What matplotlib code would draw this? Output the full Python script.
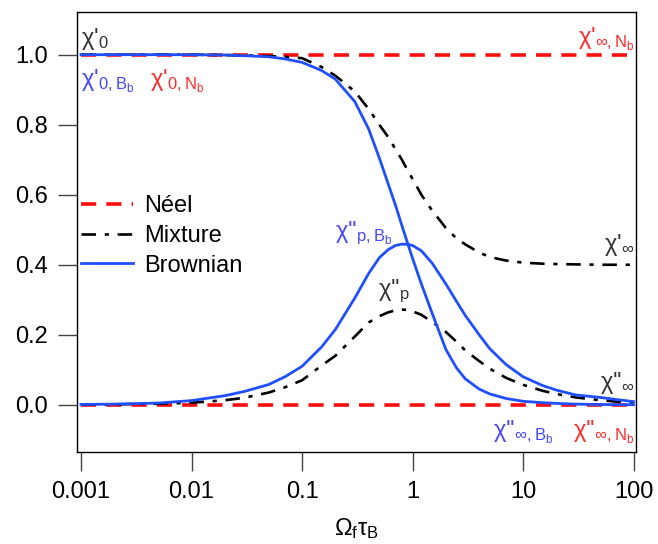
import numpy as np
import matplotlib
matplotlib.use("Agg")
import matplotlib.pyplot as plt
from matplotlib.ticker import FixedLocator, NullLocator, FixedFormatter

plt.rcParams['font.family'] = ['Liberation Sans', 'DejaVu Sans']
plt.rcParams['mathtext.default'] = 'regular'

# normalised frequency Omega_f * tau_B
freq = [0.001, 0.002, 0.005, 0.01, 0.02, 0.03, 0.05, 0.07, 0.1, 0.15, 0.2, 0.3,
        0.4, 0.5, 0.6, 0.7, 0.8, 0.9, 1.0, 1.2, 1.5, 2, 2.5, 3, 4, 5, 7, 10,
        15, 20, 30, 50, 70, 100]

# Brownian particles
brown_re = [1.0, 1.0, 1.0, 0.9999, 0.999, 0.997, 0.994, 0.988, 0.978, 0.955, 0.93, 0.866,
            0.788, 0.705, 0.632, 0.57, 0.512, 0.462, 0.418, 0.345, 0.262, 0.158, 0.105, 0.074,
            0.045, 0.031, 0.018, 0.01, 0.006, 0.004, 0.002, 0.0008, 0.0004, 0.0002]
brown_im = [0.001, 0.002, 0.005, 0.012, 0.026, 0.038, 0.058, 0.08, 0.11, 0.165, 0.215, 0.305,
            0.375, 0.42, 0.443, 0.455, 0.459, 0.458, 0.455, 0.44, 0.405, 0.345, 0.295, 0.255,
            0.2, 0.16, 0.115, 0.08, 0.055, 0.042, 0.028, 0.021, 0.015, 0.009]

# Brownian + Neel mixture
mix_re = [1.0, 1.0, 1.0, 1.0, 0.999, 0.998, 0.996, 0.994, 0.99, 0.965, 0.94, 0.895,
          0.845, 0.80, 0.765, 0.73, 0.70, 0.67, 0.645, 0.60, 0.555, 0.505, 0.475, 0.458,
          0.435, 0.422, 0.412, 0.406, 0.403, 0.402, 0.401, 0.4, 0.4, 0.4]
mix_im = [0.0006, 0.0012, 0.003, 0.006, 0.013, 0.02, 0.035, 0.05, 0.07, 0.112, 0.14, 0.195,
          0.235, 0.253, 0.264, 0.27, 0.272, 0.271, 0.267, 0.257, 0.237, 0.208, 0.18, 0.155,
          0.125, 0.103, 0.077, 0.057, 0.04, 0.031, 0.021, 0.013, 0.009, 0.006]

# Neel particles (no relaxation in this range)
neel_re = [1.0] * len(freq)
neel_im = [0.0] * len(freq)

xticks = [0.001, 0.01, 0.1, 1, 10, 100]
xtick_labels = ['0.001', '0.01', '0.1', '1', '10', '100']
yticks = [0.0, 0.2, 0.4, 0.6, 0.8, 1.0]

red = '#ff0d0d'
blue = '#1f4fff'
lab_blue = '#4646ff'
lab_red = '#ff2a2a'
lab_dark = '#333333'

fig = plt.figure(figsize=(6.58, 5.44), dpi=100)
ax = fig.add_axes([0.117, 0.169, 0.8496, 0.809])

neel_kw = dict(color=red, lw=2.6, dashes=(4.2, 2.8))
mix_kw = dict(color='black', lw=1.9, dashes=(5.5, 3.3, 1.6, 3.3))
brown_kw = dict(color=blue, lw=2.0)

ax.plot(freq, neel_re, label='Néel', **neel_kw)
ax.plot(freq, neel_im, **neel_kw)
ax.plot(freq, mix_re, label='Mixture', **mix_kw)
ax.plot(freq, mix_im, **mix_kw)
ax.plot(freq, brown_re, label='Brownian', **brown_kw)
ax.plot(freq, brown_im, **brown_kw)

ax.set_xscale('log')
ax.set_xlim(0.00092, 105)
ax.set_ylim(-0.135, 1.122)
ax.xaxis.set_major_locator(FixedLocator(xticks))
ax.xaxis.set_major_formatter(FixedFormatter(xtick_labels))
ax.xaxis.set_minor_locator(NullLocator())
ax.set_yticks(yticks)
ax.set_yticklabels(['%.1f' % v for v in yticks])
ax.tick_params(axis='both', length=14, width=1.0, color='#444444',
               labelsize=17, pad=7)
for sp in ax.spines.values():
    sp.set_linewidth(1.0)

ax.set_xlabel(r'$\Omega_f\tau_B$', fontsize=17, labelpad=9)

lab = dict(fontsize=17, va='center')
ax.text(0.001, 1.045, "χ'$_0$", color=lab_dark, ha='left', **lab)
ax.text(0.001, 0.925, "χ'$_{0,B_b}$", color=lab_blue, ha='left', **lab)
ax.text(0.0042, 0.925, "χ'$_{0,N_b}$", color=lab_red, ha='left', **lab)
ax.text(102, 1.045, "χ'$_{∞,N_b}$", color=lab_red, ha='right', **lab)
ax.text(0.2, 0.49, "χ''$_{p,B_b}$", color=lab_blue, ha='left', **lab)
ax.text(0.49, 0.325, "χ''$_p$", color=lab_dark, ha='left', **lab)
ax.text(102, 0.455, "χ'$_∞$", color=lab_dark, ha='right', **lab)
ax.text(102, 0.063, "χ''$_∞$", color=lab_dark, ha='right', **lab)
ax.text(5.3, -0.078, "χ''$_{∞,B_b}$", color=lab_blue, ha='left', **lab)
ax.text(102, -0.078, "χ''$_{∞,N_b}$", color=lab_red, ha='right', **lab)

ax.legend(loc='upper left', bbox_to_anchor=(0.008, 0.584), frameon=False,
          fontsize=17, handlelength=2.2, handletextpad=0.45,
          labelspacing=0.33, borderpad=0, borderaxespad=0)

fig.savefig('out.png', dpi=100)
